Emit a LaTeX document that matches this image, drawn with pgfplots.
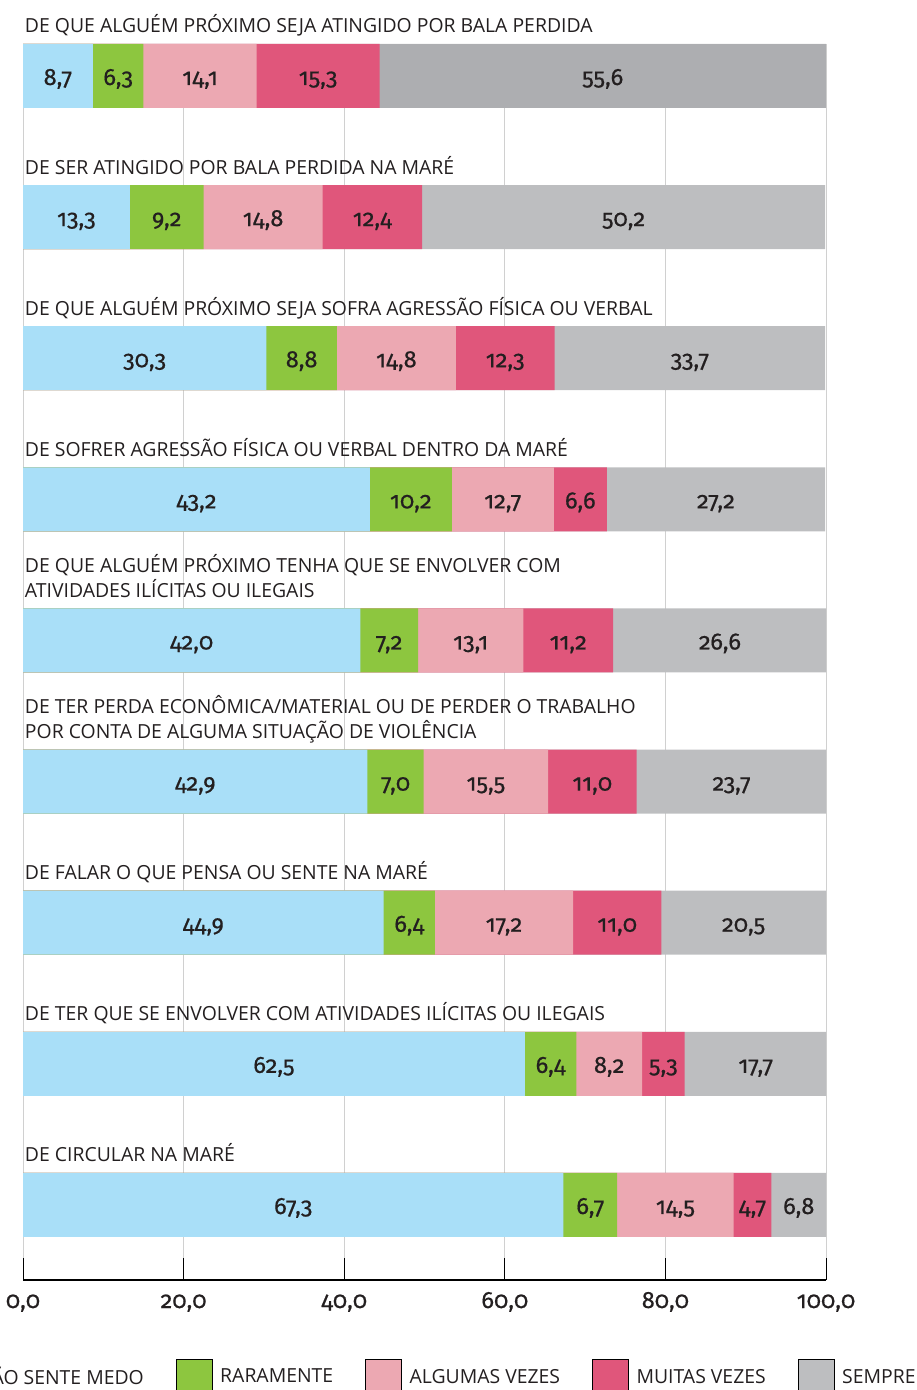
\documentclass[border=0pt]{standalone}
\usepackage{pgfplots}
\pgfplotsset{compat=1.18}
\usepackage{pgfplotstable}
\usepackage{fontspec}
\setmainfont{Open Sans}
\newfontfamily\numfont{Fira Sans}[Numbers=OldStyle, FakeBold=0.5]
\definecolor{cblue}{HTML}{A9DFF8}
\definecolor{cgreen}{HTML}{8DC63F}
\definecolor{cpink}{HTML}{ECA8B2}
\definecolor{cred}{HTML}{E0567B}
\definecolor{cgray}{HTML}{BDBEC0}
\definecolor{cgrayd}{HTML}{ADAEB1}
\definecolor{gridgray}{HTML}{D0D0D0}
\definecolor{textc}{HTML}{231F20}
\newcommand{\lab}{\fontsize{9.7}{12}\selectfont}
\newcommand{\num}{\numfont\fontsize{11.8}{13}\selectfont}
\newcommand{\twoline}[2]{\vbox{\baselineskip=12.5pt\hbox{#1}\hbox{#2}}}

\pgfplotstableread{
y a b c d e
9 8.7 6.3 14.1 15.3 55.6
8 13.3 9.2 14.8 12.4 50.2
7 30.3 8.8 14.8 12.3 33.7
6 43.2 10.2 12.7 6.6 27.2
5 42.0 7.2 13.1 11.2 26.6
4 42.9 7.0 15.5 11.0 23.7
3 44.9 6.4 17.2 11.0 20.5
2 62.5 6.4 8.2 5.3 17.7
1 67.3 6.7 14.5 4.7 6.8
}\data

\pgfplotsset{
  seg/.style={xbar, bar shift=0pt, bar width=0.4535, draw=none, forget plot},
  numlab/.style={draw=none, no markers, forget plot, nodes near coords, point meta=explicit,
    nodes near coords={\pgfmathprintnumber[fixed,fixed zerofill,precision=1,use comma]{\pgfplotspointmeta}},
    every node near coord/.append style={anchor=base, yshift=-4.5pt, font=\num, text=textc}},
}

\begin{document}
\begin{tikzpicture}
\begin{axis}[
  name=ax, scale only axis, width=401.5pt, height=618pt,
  xmin=0, xmax=100, ymin=0.4685, ymax=9.2268,
  axis x line*=bottom, axis y line*=left,
  x axis line style={black, line width=1pt},
  y axis line style={draw=none},
  xtick={0,20,...,100}, xtick align=inside, major tick length=11pt,
  xtick style={black, line width=0.5pt},
  ytick={1,...,9}, ytick style={draw=none},
  xmajorgrids, grid style={color=gridgray, line width=0.5pt},
  /pgf/number format/assume math mode=true,
  xticklabel={\pgfmathprintnumber[fixed,fixed zerofill,precision=1,use comma]{\tick}},
  xticklabel style={font=\num, anchor=base, inner sep=0pt, yshift=-14pt, text=textc},
  yticklabels={
    {DE CIRCULAR NA MARÉ},
    {DE TER QUE SE ENVOLVER COM ATIVIDADES ILÍCITAS OU ILEGAIS},
    {DE FALAR O QUE PENSA OU SENTE NA MARÉ},
    {\twoline{DE TER PERDA ECONÔMICA/MATERIAL OU DE PERDER O TRABALHO}{POR CONTA DE ALGUMA SITUAÇÃO DE VIOLÊNCIA}},
    {\twoline{DE QUE ALGUÉM PRÓXIMO TENHA QUE SE ENVOLVER COM}{ATIVIDADES ILÍCITAS OU ILEGAIS}},
    {DE SOFRER AGRESSÃO FÍSICA OU VERBAL DENTRO DA MARÉ},
    {DE QUE ALGUÉM PRÓXIMO SEJA SOFRA AGRESSÃO FÍSICA OU VERBAL},
    {DE SER ATINGIDO POR BALA PERDIDA NA MARÉ},
    {DE QUE ALGUÉM PRÓXIMO SEJA ATINGIDO POR BALA PERDIDA}},
  yticklabel style={font=\lab, anchor=base west, inner sep=0pt, xshift=0.8pt, yshift=21.5pt, text=textc},
  legend columns=5,
  legend style={at={(axis description cs:0.4995,-0.0789)}, anchor=center, draw=none, fill=none,
    inner sep=0pt, outer sep=0pt, font=\lab, text=textc, column sep=0pt,
    /tikz/every odd column/.append style={column sep=3.8pt},
    /tikz/every even column/.append style={column sep=16pt},
    nodes={inner sep=0pt}},
  legend image code/.code={\fill[#1] (0pt,-9.25pt) rectangle (18pt,9.25pt);},
]
\addplot[seg, fill=cgray] table[y=y, x expr=\thisrow{a}+\thisrow{b}+\thisrow{c}+\thisrow{d}+\thisrow{e}]{\data};
\addplot[seg, fill=cgrayd, restrict y to domain=9:9] table[y=y, x expr=\thisrow{a}+\thisrow{b}+\thisrow{c}+\thisrow{d}+\thisrow{e}]{\data};
\addplot[seg, fill=cred] table[y=y, x expr=\thisrow{a}+\thisrow{b}+\thisrow{c}+\thisrow{d}]{\data};
\addplot[seg, fill=cpink] table[y=y, x expr=\thisrow{a}+\thisrow{b}+\thisrow{c}]{\data};
\addplot[seg, fill=cgreen] table[y=y, x expr=\thisrow{a}+\thisrow{b}]{\data};
\addplot[seg, fill=cblue] table[y=y, x=a]{\data};

\addplot[numlab] table[y=y, x expr=\thisrow{a}/2, meta=a]{\data};
\addplot[numlab] table[y=y, x expr=\thisrow{a}+\thisrow{b}/2, meta=b]{\data};
\addplot[numlab] table[y=y, x expr=\thisrow{a}+\thisrow{b}+\thisrow{c}/2, meta=c]{\data};
\addplot[numlab] table[y=y, x expr=\thisrow{a}+\thisrow{b}+\thisrow{c}+\thisrow{d}/2, meta=d]{\data};
\addplot[numlab] table[y=y, x expr=\thisrow{a}+\thisrow{b}+\thisrow{c}+\thisrow{d}+\thisrow{e}/2, meta=e]{\data};

\addlegendimage{fill=cblue}\addlegendentry{NÃO SENTE MEDO}
\addlegendimage{fill=cgreen}\addlegendentry{RARAMENTE}
\addlegendimage{fill=cpink}\addlegendentry{ALGUMAS VEZES}
\addlegendimage{fill=cred}\addlegendentry{MUITAS VEZES}
\addlegendimage{fill=cgray}\addlegendentry{SEMPRE}
\end{axis}
\pgfresetboundingbox
\path[use as bounding box] ([xshift=-11.5pt,yshift=-55pt]ax.south west) rectangle ([xshift=446.5pt,yshift=640pt]ax.south west);
\end{tikzpicture}
\end{document}
